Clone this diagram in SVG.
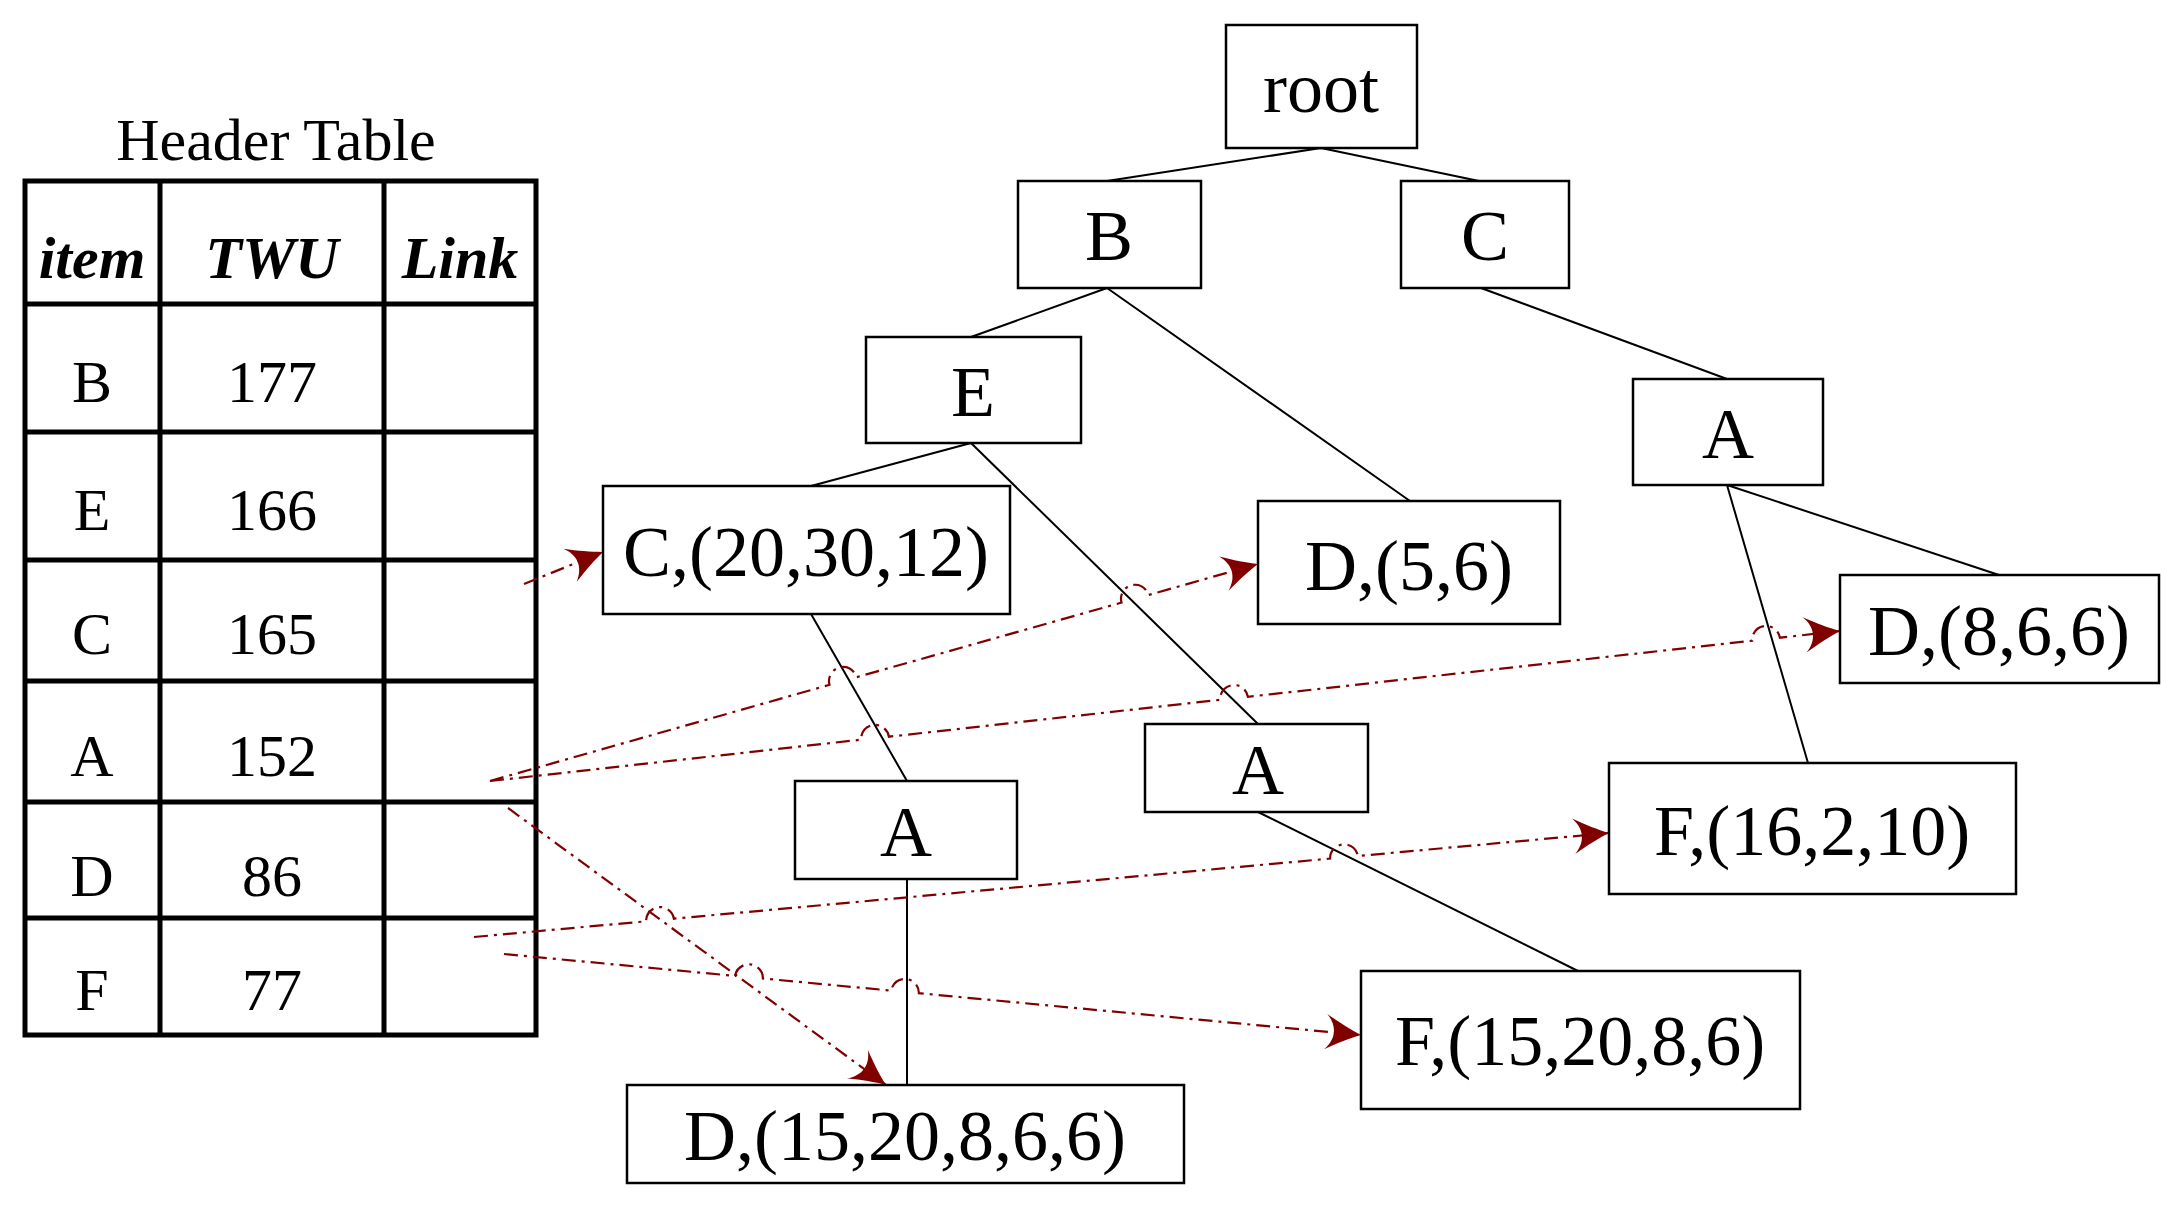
<svg xmlns="http://www.w3.org/2000/svg" width="2184" height="1206" viewBox="0 0 2184 1206">
<style>
text{font-family:"Liberation Serif","Times New Roman",serif;fill:#000;text-anchor:middle;dominant-baseline:central}
.n{font-size:72px}
.t{font-size:60px}
.h{font-size:60px;font-style:italic;font-weight:bold}
rect.b{fill:#fff;stroke:#000;stroke-width:2.5}
.tb{fill:none;stroke:#000;stroke-width:5}
.e{stroke:#000;stroke-width:2;fill:none}
.l{stroke:#800000;stroke-width:2.2;fill:none;stroke-dasharray:14 6 3 6;marker-end:url(#ah)}
</style>
<defs>
<marker id="ah" markerUnits="userSpaceOnUse" markerWidth="40" markerHeight="40" viewBox="-34 -18 36 36" refX="0" refY="0" orient="auto">
<path d="M0,0 C-10,-4 -20,-9 -32,-16 C-22,-6 -22,6 -32,16 C-20,9 -10,4 0,0Z" fill="#800000"/>
</marker>
</defs>
<rect width="2184" height="1206" fill="#fff"/>
<g id="header-table">
<text class="t" x="276" y="140">Header Table</text>
<rect class="tb" x="25" y="181" width="511" height="854"/>
<path class="tb" d="M160,181V1035M384,181V1035M25,304H536M25,432H536M25,560H536M25,681H536M25,802H536M25,918H536"/>
<text class="h" x="92" y="258">item</text><text class="h" x="272" y="258">TWU</text><text class="h" x="460" y="258">Link</text>
<text class="t" x="92" y="382">B</text><text class="t" x="272" y="382">177</text>
<text class="t" x="92" y="510">E</text><text class="t" x="272" y="510">166</text>
<text class="t" x="92" y="634">C</text><text class="t" x="272" y="634">165</text>
<text class="t" x="92" y="756">A</text><text class="t" x="272" y="756">152</text>
<text class="t" x="92" y="876">D</text><text class="t" x="272" y="876">86</text>
<text class="t" x="92" y="990">F</text><text class="t" x="272" y="990">77</text>
</g>
<g id="edges">
<path class="e" d="M1321,148L1107,181M1321,148L1479,181M1107,288L971,337M1107,288L1410,501M1481,288L1727,379M971,443L811,486M971,443L1258,724M811,614L907,781M907,879V1085M1258,812L1578,971M1727,485L1999,575M1727,485L1808,763"/>
</g>
<g id="links">
<path class="l" d="M524,584L603,552"/>
<path class="l" d="M490,781L829.5,684.8A14,14 0 0 1 856.5,677.2L1121.5,602.6A14,14 0 0 1 1148.5,595L1258,564"/>
<path class="l" d="M490,781L861.1,739.7A14,14 0 0 1 888.9,736.7L1220.1,699.8A14,14 0 0 1 1247.9,696.8L1752.1,640.7A14,14 0 0 1 1779.9,637.7L1840,631"/>
<path class="l" d="M508,808L886,1085"/>
<path class="l" d="M474,937L646.1,921.3A14,14 0 0 1 673.9,918.7L1330.1,858.6A14,14 0 0 1 1357.9,856L1609,833"/>
<path class="l" d="M504,954L735.1,975.9A14,14 0 0 1 762.9,978.5L891.1,990.6A14,14 0 0 1 918.9,993.2L1361,1035"/>
</g>
<g id="n-root"><rect class="b" x="1226" y="25" width="191" height="123"/><text class="n" x="1321" y="88">root</text></g>
<g id="n-B"><rect class="b" x="1018" y="181" width="183" height="107"/><text class="n" x="1109" y="236">B</text></g>
<g id="n-C"><rect class="b" x="1401" y="181" width="168" height="107"/><text class="n" x="1485" y="236">C</text></g>
<g id="n-E"><rect class="b" x="866" y="337" width="215" height="106"/><text class="n" x="973" y="392">E</text></g>
<g id="n-C2"><rect class="b" x="603" y="486" width="407" height="128"/><text class="n" x="806" y="552">C,(20,30,12)</text></g>
<g id="n-D56"><rect class="b" x="1258" y="501" width="302" height="123"/><text class="n" x="1409" y="566">D,(5,6)</text></g>
<g id="n-A3"><rect class="b" x="1633" y="379" width="190" height="106"/><text class="n" x="1728" y="434">A</text></g>
<g id="n-D866"><rect class="b" x="1840" y="575" width="319" height="108"/><text class="n" x="1999" y="631">D,(8,6,6)</text></g>
<g id="n-A2"><rect class="b" x="1145" y="724" width="223" height="88"/><text class="n" x="1258" y="770">A</text></g>
<g id="n-F16"><rect class="b" x="1609" y="763" width="407" height="131"/><text class="n" x="1812" y="831">F,(16,2,10)</text></g>
<g id="n-A1"><rect class="b" x="795" y="781" width="222" height="98"/><text class="n" x="906" y="832">A</text></g>
<g id="n-F15"><rect class="b" x="1361" y="971" width="439" height="138"/><text class="n" x="1580" y="1041">F,(15,20,8,6)</text></g>
<g id="n-D15"><rect class="b" x="627" y="1085" width="557" height="98"/><text class="n" x="905" y="1136">D,(15,20,8,6,6)</text></g>
</svg>
